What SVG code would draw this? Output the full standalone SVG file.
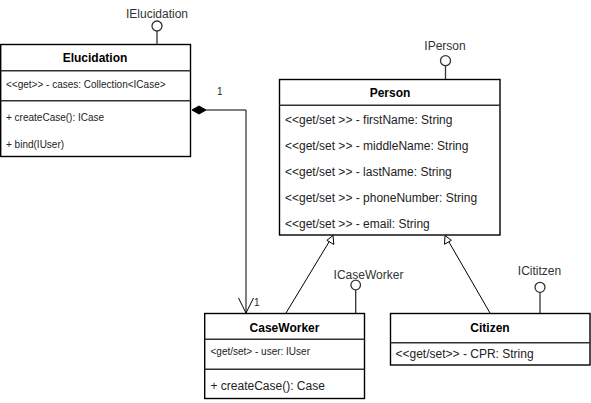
<svg xmlns="http://www.w3.org/2000/svg" width="591" height="403" viewBox="0 0 591 403">
<style>
  .box{fill:#fff;stroke:#000;stroke-width:1.4}
  .div{stroke:#333;stroke-width:1.4;fill:none}
  .t{font-family:"Liberation Sans",Arial,sans-serif;fill:#222}
  .h{font-size:12px;font-weight:bold;text-anchor:middle;fill:#000}
  .s10{font-size:10px}
  .s12{font-size:12px}
  .lbl{font-size:12px;text-anchor:middle;fill:#333}
  .conn{stroke:#000;stroke-width:1;fill:none}
  .lol{stroke:#333;stroke-width:1.3;fill:#fff}
</style>
<rect width="591" height="403" fill="#fff"/>
<g id="connectors">
  <polyline class="conn" points="206,110 246,110 246,313"/>
  <polygon points="192,110 199,106 206,110 199,114" fill="#000" stroke="#000" stroke-width="1"/>
  <polyline class="conn" points="238.5,298 246,313 253.5,298"/>
  <text class="t s10" x="217" y="95">1</text>
  <text class="t s10" x="254" y="306">1</text>
  <line class="conn" x1="286" y1="313" x2="330.5" y2="239.5"/>
  <polygon points="333,235.5 333.8,244.5 326.9,240.3" fill="#fff" stroke="#000" stroke-width="1"/>
  <line class="conn" x1="490" y1="313" x2="447.5" y2="239.5"/>
  <polygon points="445,235.5 451.4,240.3 444.5,244.3" fill="#fff" stroke="#000" stroke-width="1"/>
</g>
<g id="Elucidation">
  <line class="lol" x1="157" y1="31" x2="157" y2="44"/>
  <circle class="lol" cx="157" cy="26" r="5"/>
  <text class="t lbl" x="157" y="18">IElucidation</text>
  <rect class="box" x="0.7" y="44.5" width="189.8" height="112"/>
  <line class="div" x1="0.7" y1="70.7" x2="190.5" y2="70.7"/>
  <line class="div" x1="0.7" y1="100.7" x2="190.5" y2="100.7"/>
  <text class="t h" x="95" y="62">Elucidation</text>
  <text class="t s10" x="6" y="87.5">&lt;&lt;get&gt;&gt; - cases: Collection&lt;ICase&gt;</text>
  <text class="t s10" x="6" y="121">+ createCase(): ICase</text>
  <text class="t s10" x="6" y="147.5">+ bind(IUser)</text>
</g>
<g id="Person">
  <line class="lol" x1="445.5" y1="66" x2="445.5" y2="79.5"/>
  <circle class="lol" cx="445.5" cy="60.7" r="5"/>
  <text class="t lbl" x="445" y="50">IPerson</text>
  <rect class="box" x="279.5" y="79.5" width="220.5" height="155.5"/>
  <line class="div" x1="279.5" y1="105.3" x2="500" y2="105.3"/>
  <text class="t h" x="390" y="97">Person</text>
  <text class="t s12" x="285" y="124">&lt;&lt;get/set &gt;&gt; - firstName: String</text>
  <text class="t s12" x="285" y="150">&lt;&lt;get/set &gt;&gt; - middleName: String</text>
  <text class="t s12" x="285" y="176">&lt;&lt;get/set &gt;&gt; - lastName: String</text>
  <text class="t s12" x="285" y="202">&lt;&lt;get/set &gt;&gt; - phoneNumber: String</text>
  <text class="t s12" x="285" y="227.5">&lt;&lt;get/set &gt;&gt; - email: String</text>
</g>
<g id="CaseWorker">
  <line class="lol" x1="355.7" y1="290" x2="355.7" y2="313.5"/>
  <circle class="lol" cx="355.7" cy="285" r="4.8"/>
  <text class="t lbl" x="368.5" y="279">ICaseWorker</text>
  <rect class="box" x="204.7" y="313.5" width="159.8" height="85"/>
  <line class="div" x1="204.7" y1="339.3" x2="364.5" y2="339.3"/>
  <line class="div" x1="204.7" y1="369.3" x2="364.5" y2="369.3"/>
  <text class="t h" x="284.5" y="332">CaseWorker</text>
  <text class="t s10" x="210.5" y="355">&lt;get/set&gt; - user: IUser</text>
  <text class="t s12" x="210.5" y="390">+ createCase(): Case</text>
</g>
<g id="Citizen">
  <line class="lol" x1="540" y1="292.3" x2="540" y2="313.5"/>
  <circle class="lol" cx="540" cy="287.3" r="5"/>
  <text class="t lbl" x="539.5" y="275">ICititzen</text>
  <rect class="box" x="390.5" y="313.5" width="199.5" height="51.5"/>
  <line class="div" x1="390.5" y1="342.7" x2="590" y2="342.7"/>
  <text class="t h" x="490" y="332">Citizen</text>
  <text class="t s12" x="395.5" y="357.5">&lt;&lt;get/set&gt;&gt; - CPR: String</text>
</g>
</svg>
